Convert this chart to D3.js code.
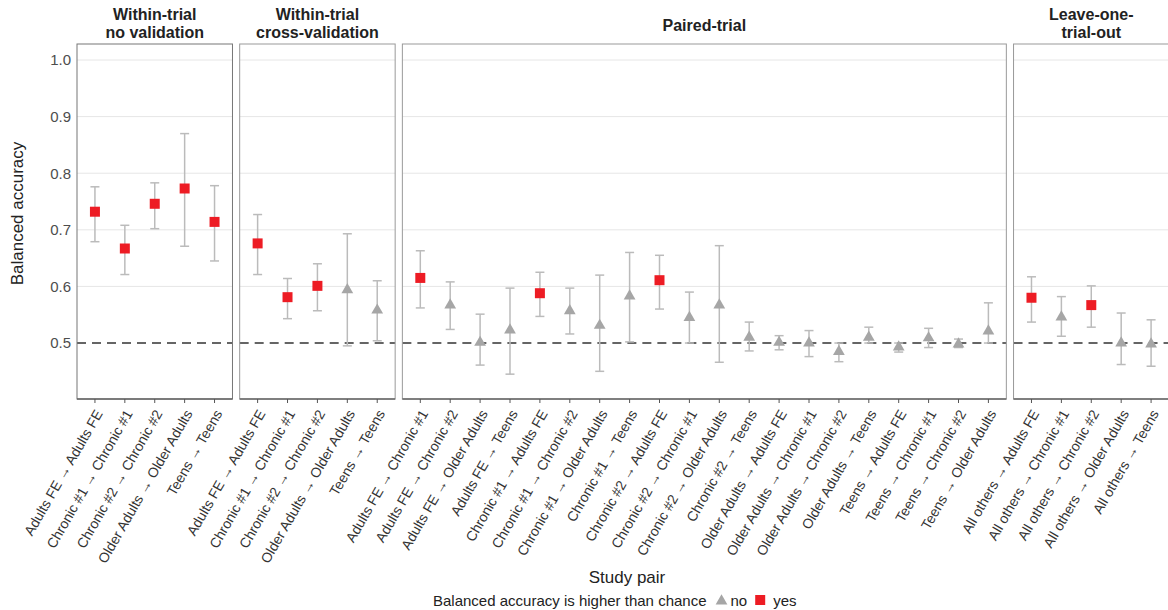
<!DOCTYPE html>
<html>
<head>
<meta charset="utf-8">
<script src="https://cdn.jsdelivr.net/npm/d3@7"></script>
<style>
  body { margin: 0; background: #fff; }
  text { font-family: "Liberation Sans", Arial, sans-serif; }
</style>
</head>
<body>
<svg id="chart" width="1168" height="610"></svg>
<script>
"use strict";

// Strip titles, one entry per facet (each entry = lines of the title)
var panelTitles = [["Within-trial", "no validation"], ["Within-trial", "cross-validation"], ["Paired-trial"], ["Leave-one-", "trial-out"]];

// Study pairs for each facet
var withinPairs = ["Adults FE → Adults FE", "Chronic #1 → Chronic #1", "Chronic #2 → Chronic #2", "Older Adults → Older Adults", "Teens → Teens"];
var pairedPairs = ["Adults FE → Chronic #1", "Adults FE → Chronic #2", "Adults FE → Older Adults", "Adults FE → Teens",
  "Chronic #1 → Adults FE", "Chronic #1 → Chronic #2", "Chronic #1 → Older Adults", "Chronic #1 → Teens",
  "Chronic #2 → Adults FE", "Chronic #2 → Chronic #1", "Chronic #2 → Older Adults", "Chronic #2 → Teens",
  "Older Adults → Adults FE", "Older Adults → Chronic #1", "Older Adults → Chronic #2", "Older Adults → Teens",
  "Teens → Adults FE", "Teens → Chronic #1", "Teens → Chronic #2", "Teens → Older Adults"];
var lotoPairs = ["All others → Adults FE", "All others → Chronic #1", "All others → Chronic #2", "All others → Older Adults", "All others → Teens"];

// Balanced accuracy, lower / upper interval, higher than chance (1 = yes)
var accNoVal = [0.732, 0.667, 0.746, 0.773, 0.714];
var loNoVal  = [0.679, 0.621, 0.702, 0.671, 0.645];
var hiNoVal  = [0.776, 0.708, 0.783, 0.870, 0.778];
var yesNoVal = [1, 1, 1, 1, 1];

var accCv = [0.676, 0.581, 0.601, 0.594, 0.558];
var loCv  = [0.621, 0.543, 0.557, 0.495, 0.504];
var hiCv  = [0.727, 0.614, 0.640, 0.693, 0.610];
var yesCv = [1, 1, 1, 0, 0];

var accPaired = [0.615, 0.567, 0.501, 0.523, 0.588, 0.557, 0.531, 0.583, 0.611, 0.545,
  0.567, 0.510, 0.501, 0.500, 0.485, 0.510, 0.493, 0.509, 0.498, 0.521];
var loPaired  = [0.562, 0.524, 0.461, 0.445, 0.547, 0.516, 0.450, 0.502, 0.560, 0.500,
  0.466, 0.486, 0.488, 0.476, 0.467, 0.500, 0.484, 0.492, 0.492, 0.500];
var hiPaired  = [0.663, 0.608, 0.551, 0.597, 0.625, 0.597, 0.620, 0.660, 0.655, 0.590,
  0.672, 0.537, 0.513, 0.522, 0.500, 0.528, 0.500, 0.526, 0.507, 0.571];
var yesPaired = [1, 0, 0, 0, 1, 0, 0, 0, 1, 0, 0, 0, 0, 0, 0, 0, 0, 0, 0, 0];

var accLoto = [0.580, 0.546, 0.567, 0.500, 0.498];
var loLoto  = [0.537, 0.512, 0.528, 0.462, 0.459];
var hiLoto  = [0.617, 0.582, 0.601, 0.553, 0.541];
var yesLoto = [1, 0, 1, 0, 0];

var yTicks = [0.6, 0.7, 0.8, 0.9, 1.0];
var chance = 0.5;

// Facets built from the arrays above
var facets = [
  {title: panelTitles[0], pairs: withinPairs, acc: accNoVal, lo: loNoVal, hi: hiNoVal, yes: yesNoVal},
  {title: panelTitles[1], pairs: withinPairs, acc: accCv, lo: loCv, hi: hiCv, yes: yesCv},
  {title: panelTitles[2], pairs: pairedPairs, acc: accPaired, lo: loPaired, hi: hiPaired, yes: yesPaired},
  {title: panelTitles[3], pairs: lotoPairs, acc: accLoto, lo: loLoto, hi: hiLoto, yes: yesLoto}
];

var svg = d3.select("#chart");
var panLeft = 77, panTop = 44, panBottom = 399, gap = 7.2, unit = 29.9, pad = 0.6;
var red = "#ed1c24", grey = "#a6a6a6", barCol = "#bbbbbb";

var y = d3.scaleLinear().domain([0.4011, 1.0283]).range([panBottom, panTop]);

// y tick labels
svg.append("g")
  .selectAll("text")
  .data([0.5].concat(yTicks))
  .enter().append("text")
    .attr("x", 71)
    .attr("y", function(d) { return y(d); })
    .attr("dy", "0.36em")
    .attr("text-anchor", "end")
    .attr("font-size", "15px")
    .attr("fill", "#4d4d4d")
    .text(function(d) { return d3.format(".1f")(d); });

// y axis title
svg.append("text")
  .attr("transform", "translate(23," + ((panTop + panBottom) / 2 - 8) + ") rotate(-90)")
  .attr("text-anchor", "middle")
  .attr("font-size", "17px")
  .attr("fill", "#222")
  .text("Balanced accuracy");

var x0 = panLeft;
facets.forEach(function(f, fi) {
  var w = unit * (f.pairs.length - 1 + 2 * pad);
  var x = d3.scalePoint().domain(f.pairs).range([x0, x0 + w]).padding(pad);
  var g = svg.append("g");

  // grid lines
  g.selectAll("line.grid")
    .data(yTicks)
    .enter().append("line")
      .attr("x1", x0).attr("x2", x0 + w)
      .attr("y1", function(d) { return y(d); })
      .attr("y2", function(d) { return y(d); })
      .attr("stroke", "#e6e6e6")
      .attr("stroke-width", 1);

  // chance line
  g.append("line")
    .attr("x1", x0).attr("x2", x0 + w)
    .attr("y1", y(chance)).attr("y2", y(chance))
    .attr("stroke", "#333")
    .attr("stroke-width", 1.6)
    .attr("stroke-dasharray", "9,6");

  // panel border
  g.append("rect")
    .attr("x", x0).attr("y", panTop)
    .attr("width", w).attr("height", panBottom - panTop)
    .attr("fill", "none")
    .attr("stroke", fi == 0 ? "#777" : "#999")
    .attr("stroke-width", 1);

  // bottom axis line + ticks
  g.append("line")
    .attr("x1", x0).attr("x2", x0 + w)
    .attr("y1", panBottom).attr("y2", panBottom)
    .attr("stroke", "#666").attr("stroke-width", 1.6);
  g.selectAll("line.tick")
    .data(f.pairs)
    .enter().append("line")
      .attr("x1", function(d) { return x(d); })
      .attr("x2", function(d) { return x(d); })
      .attr("y1", panBottom).attr("y2", panBottom + 4)
      .attr("stroke", "#555");

  // tick labels
  g.selectAll("text.lab")
    .data(f.pairs)
    .enter().append("text")
      .attr("transform", function(d) { return "translate(" + (x(d) + 4) + "," + (panBottom + 12) + ") rotate(-60)"; })
      .attr("text-anchor", "end")
      .attr("dy", "0.35em")
      .attr("font-size", "14px")
      .attr("fill", "#333")
      .text(function(d) { return d; });

  // strip title
  var cx = x0 + w / 2;
  var lines = f.title;
  lines.forEach(function(l, li) {
    g.append("text")
      .attr("text-anchor", "middle")
      .attr("font-size", "16px")
      .attr("font-weight", "bold")
      .attr("fill", "#222")
      .attr("x", cx)
      .attr("y", (lines.length == 1 ? 31 : 20) + li * 17.5)
      .text(l);
  });

  // error bars
  var idx = d3.range(f.pairs.length);
  var eb = g.append("g").attr("stroke", barCol).attr("stroke-width", 1.5);
  eb.selectAll("line.v")
    .data(idx).enter().append("line")
      .attr("x1", function(i) { return x(f.pairs[i]); })
      .attr("x2", function(i) { return x(f.pairs[i]); })
      .attr("y1", function(i) { return y(f.lo[i]); })
      .attr("y2", function(i) { return y(f.hi[i]); });
  ["lo", "hi"].forEach(function(k) {
    eb.selectAll("line." + k)
      .data(idx).enter().append("line")
        .attr("x1", function(i) { return x(f.pairs[i]) - 4.5; })
        .attr("x2", function(i) { return x(f.pairs[i]) + 4.5; })
        .attr("y1", function(i) { return y(f[k][i]); })
        .attr("y2", function(i) { return y(f[k][i]); });
  });

  // points
  g.selectAll("path.pt")
    .data(idx).enter().append("path")
      .attr("transform", function(i) { return "translate(" + x(f.pairs[i]) + "," + y(f.acc[i]) + ")"; })
      .attr("d", function(i) {
        return f.yes[i] ? d3.symbol().type(d3.symbolSquare).size(100)() : d3.symbol().type(d3.symbolTriangle).size(60)();
      })
      .attr("fill", function(i) { return f.yes[i] ? red : grey; });

  x0 += w + gap;
});

// x axis title
svg.append("text")
  .attr("x", 627).attr("y", 583)
  .attr("text-anchor", "middle")
  .attr("font-size", "17px")
  .attr("fill", "#222")
  .text("Study pair");

// legend
var leg = svg.append("g").attr("font-size", "15px").attr("fill", "#222");
var lt = leg.append("text").attr("x", 433).attr("y", 606).text("Balanced accuracy is higher than chance");
var lx = 433 + lt.node().getComputedTextLength() + 10;
leg.append("path")
  .attr("transform", "translate(" + (lx + 5) + ",601)")
  .attr("d", d3.symbol().type(d3.symbolTriangle).size(60)())
  .attr("fill", grey);
var nt = leg.append("text").attr("x", lx + 14).attr("y", 606).text("no");
lx = lx + 14 + nt.node().getComputedTextLength() + 8;
leg.append("path")
  .attr("transform", "translate(" + (lx + 5) + ",600)")
  .attr("d", d3.symbol().type(d3.symbolSquare).size(100)())
  .attr("fill", red);
leg.append("text").attr("x", lx + 18).attr("y", 606).text("yes");
</script>
</body>
</html>
